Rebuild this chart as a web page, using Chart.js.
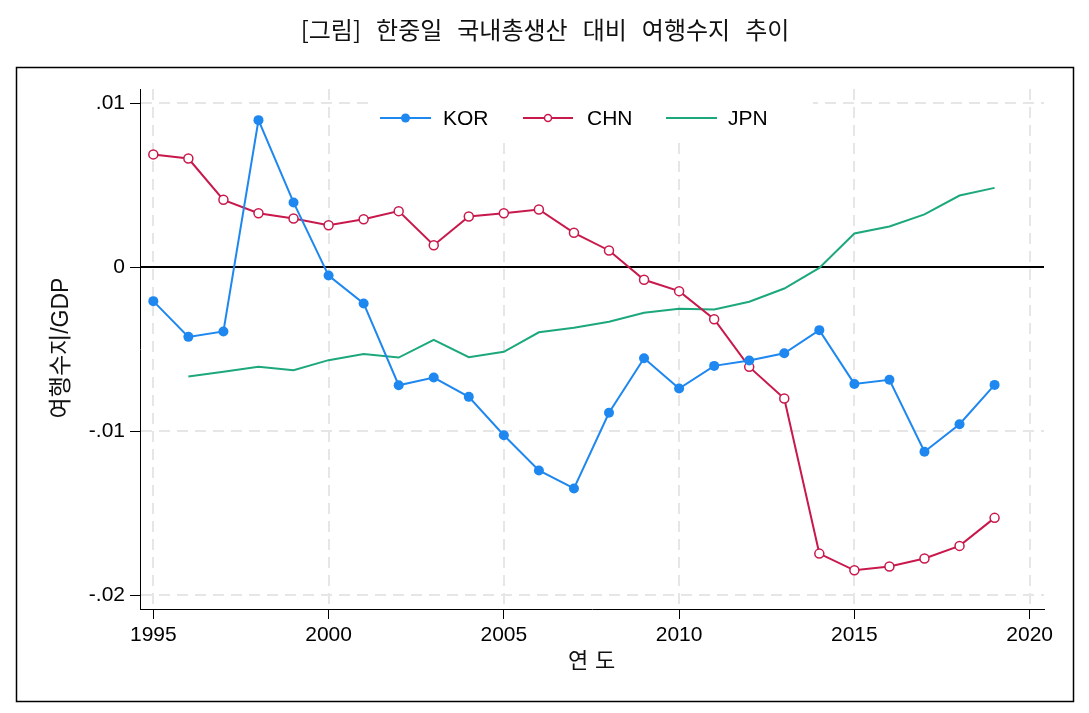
<!DOCTYPE html>
<html>
<head>
<meta charset="utf-8">
<script src="https://cdn.jsdelivr.net/npm/chart.js@4.4.1/dist/chart.umd.min.js"></script>
<style>
  html, body { margin: 0; padding: 0; background: #ffffff; }
  #c { display: block; }
</style>
</head>
<body>
<canvas id="c" width="1089" height="713"></canvas>
<script>
const years = [1995,1996,1997,1998,1999,2000,2001,2002,2003,2004,2005,2006,2007,2008,2009,2010,2011,2012,2013,2014,2015,2016,2017,2018,2019];
const kor = [-0.00207,-0.00425,-0.00392,0.00897,0.00395,-0.00051,-0.00221,-0.00720,-0.00673,-0.00791,-0.01025,-0.01240,-0.01350,-0.00888,-0.00555,-0.00740,-0.00602,-0.00569,-0.00525,-0.00384,-0.00712,-0.00687,-0.01126,-0.00958,-0.00718];
const chn = [0.00688,0.00663,0.00411,0.00329,0.00297,0.00256,0.00293,0.00342,0.00134,0.00309,0.00329,0.00352,0.00210,0.00102,-0.00077,-0.00146,-0.00317,-0.00608,-0.00801,-0.01747,-0.01849,-0.01826,-0.01777,-0.01700,-0.01529];
const jpn = [null,-0.00667,-0.00638,-0.00608,-0.00628,-0.00567,-0.00529,-0.00551,-0.00443,-0.00549,-0.00516,-0.00397,-0.00370,-0.00333,-0.00278,-0.00254,-0.00258,-0.00211,-0.00130,-0.00004,0.00206,0.00248,0.00322,0.00437,0.00484];
const xTicks = [1995,2000,2005,2010,2015,2020];
const yTicks = [-0.02,-0.01,0,0.01];
const yTickLabels = ['-.02','-.01','0','.01'];
const seriesNames = ['KOR','CHN','JPN'];
const titleText = '[그림] 한중일 국내총생산 대비 여행수지 추이';
const yTitle = '여행수지/GDP';
const xTitle = '연도';

const COL_KOR = '#1e87f0';
const COL_CHN = '#c8184c';
const COL_JPN = '#1ca87c';
const FONT = '"Liberation Sans", Arial, "Noto Sans CJK KR", sans-serif';
const KFONT = '"Noto Sans CJK KR", "Liberation Sans", sans-serif';

function pts(arr){ return years.map((y,i)=>({x:y, y:arr[i]})); }

const decor = {
  id: 'decor',
  beforeDraw(chart){
    const ctx = chart.ctx;
    ctx.save();
    ctx.fillStyle = '#ffffff';
    ctx.fillRect(0,0,chart.width,chart.height);
    ctx.restore();
  },
  beforeDatasetsDraw(chart){
    const ctx = chart.ctx, a = chart.chartArea;
    const xs = chart.scales.x, ys = chart.scales.y;
    ctx.save();
    ctx.strokeStyle = '#e6e6e6';
    ctx.lineWidth = 2;
    ctx.setLineDash([11,7]);
    xTicks.forEach(v=>{
      const px = Math.round(xs.getPixelForValue(v));
      ctx.beginPath(); ctx.moveTo(px, a.top); ctx.lineTo(px, a.bottom-1); ctx.stroke();
    });
    yTicks.forEach(v=>{
      if (v === 0) return;
      const py = Math.round(ys.getPixelForValue(v));
      ctx.beginPath(); ctx.moveTo(a.left+1, py); ctx.lineTo(a.right, py); ctx.stroke();
    });
    ctx.setLineDash([]);
    const z = Math.round(ys.getPixelForValue(0));
    ctx.strokeStyle = '#000000';
    ctx.lineWidth = 2;
    ctx.beginPath(); ctx.moveTo(a.left, z); ctx.lineTo(a.right, z); ctx.stroke();
    ctx.fillStyle = '#ffffff';
    ctx.fillRect(370, a.top, 443, 50);
    ctx.restore();
  },
  afterDraw(chart){
    const ctx = chart.ctx;
    ctx.save();
    ctx.strokeStyle = '#000000';
    ctx.lineWidth = 1.5;
    ctx.strokeRect(16.5, 67.5, 1057, 634);
    ctx.fillStyle = '#111111';
    ctx.font = '24px ' + KFONT;
    ctx.textBaseline = 'middle';
    ctx.textAlign = 'left';
    const words = titleText.split(' ');
    const gap = 15;
    let total = 0;
    words.forEach((w,i)=>{ total += ctx.measureText(w).width + (i ? gap : 0); });
    let x = 545 - total/2;
    words.forEach(w=>{ ctx.fillText(w, x, 30); x += ctx.measureText(w).width + gap; });
    ctx.save();
    ctx.translate(62, 348);
    ctx.rotate(-Math.PI/2);
    ctx.font = '23px ' + FONT;
    ctx.textAlign = 'center';
    ctx.fillStyle = '#111111';
    ctx.fillText(yTitle, 0, 0);
    ctx.restore();
    ctx.font = '22px ' + FONT;
    ctx.textAlign = 'center';
    ctx.fillStyle = '#111111';
    ctx.fillText(xTitle[0], 578, 662);
    ctx.fillText(xTitle[1], 605, 662);
    const ly = 118;
    const items = [
      {x1:380, x2:431, col:COL_KOR, mk:'fill', tx:443},
      {x1:523, x2:573, col:COL_CHN, mk:'hollow', tx:587},
      {x1:666, x2:717, col:COL_JPN, mk:'none', tx:728}
    ];
    items.forEach((it,i)=>{
      ctx.strokeStyle = it.col; ctx.lineWidth = 2;
      ctx.beginPath(); ctx.moveTo(it.x1, ly); ctx.lineTo(it.x2, ly); ctx.stroke();
      const cx = (it.x1+it.x2)/2;
      if (it.mk === 'fill'){
        ctx.fillStyle = it.col; ctx.beginPath(); ctx.arc(cx, ly, 4.5, 0, Math.PI*2); ctx.fill();
      } else if (it.mk === 'hollow'){
        ctx.fillStyle = '#ffffff'; ctx.lineWidth = 1.5;
        ctx.beginPath(); ctx.arc(cx, ly, 3.5, 0, Math.PI*2); ctx.fill(); ctx.stroke();
      }
      ctx.fillStyle = '#000000';
      ctx.font = '21px ' + FONT;
      ctx.textAlign = 'left';
      ctx.textBaseline = 'middle';
      ctx.fillText(seriesNames[i], it.tx, ly+1);
    });
    ctx.restore();
  }
};

new Chart(document.getElementById('c'), {
  type: 'line',
  data: {
    datasets: [
      { label: seriesNames[0], data: pts(kor), borderColor: COL_KOR, backgroundColor: COL_KOR,
        borderWidth: 2, pointRadius: 5, pointBorderWidth: 0, pointBackgroundColor: COL_KOR, tension: 0, order: 1 },
      { label: seriesNames[1], data: pts(chn), borderColor: COL_CHN, backgroundColor: '#ffffff',
        borderWidth: 2, pointRadius: 4.5, pointBorderWidth: 1.5, pointBackgroundColor: '#ffffff', pointBorderColor: COL_CHN, tension: 0, order: 2 },
      { label: seriesNames[2], data: pts(jpn), borderColor: COL_JPN, backgroundColor: COL_JPN,
        borderWidth: 2, pointRadius: 0, tension: 0, spanGaps: false, order: 3 }
    ]
  },
  options: {
    responsive: false,
    animation: false,
    devicePixelRatio: 1,
    layout: { padding: { top: 89, left: 0, right: 45, bottom: 0 } },
    plugins: { legend: { display: false }, title: { display: false }, tooltip: { enabled: false } },
    scales: {
      x: {
        type: 'linear', min: 1994.62, max: 2020.41,
        afterBuildTicks: s => { s.ticks = xTicks.map(v => ({ value: v })); },
        afterFit: s => { s.height = 104; },
        ticks: { color: '#000000', font: { family: FONT, size: 21 }, padding: 4, maxRotation: 0, autoSkip: false,
                 callback: v => String(v) },
        grid: { drawOnChartArea: false, drawTicks: true, tickLength: 10, color: '#000000', lineWidth: 1 },
        border: { display: true, color: '#000000', width: 1 }
      },
      y: {
        type: 'linear', min: -0.02085, max: 0.01087,
        afterBuildTicks: s => { s.ticks = yTicks.map(v => ({ value: v })); },
        afterFit: s => { s.width = 140; },
        ticks: { color: '#000000', font: { family: FONT, size: 21 }, padding: 5, autoSkip: false,
                 callback: v => { const i = yTicks.findIndex(t => Math.abs(t - v) < 1e-9); return i >= 0 ? yTickLabels[i] : ''; } },
        grid: { drawOnChartArea: false, drawTicks: true, tickLength: 10, color: '#000000', lineWidth: 1 },
        border: { display: true, color: '#000000', width: 1 }
      }
    }
  },
  plugins: [decor]
});
</script>
</body>
</html>
